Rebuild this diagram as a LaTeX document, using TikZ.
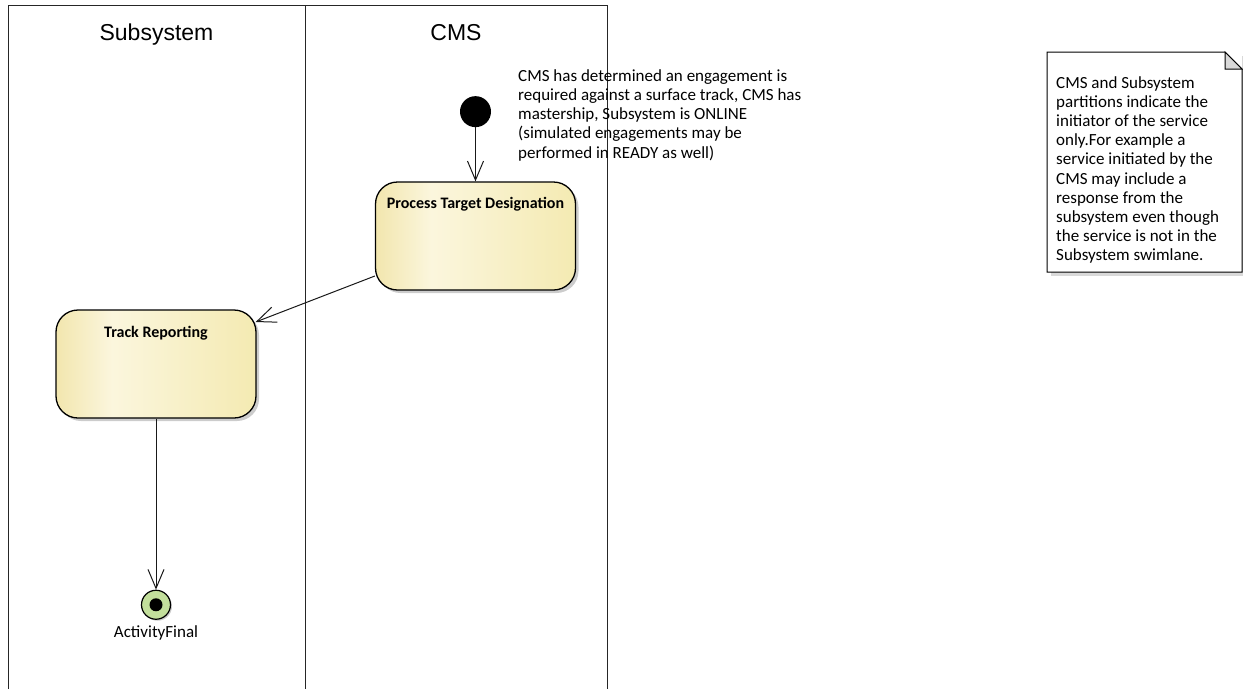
\documentclass[tikz,border=0pt]{standalone}
\usepackage{fontspec}
\setmainfont{Carlito}
\newfontfamily\lanefont{Liberation Sans}
\usetikzlibrary{positioning,arrows.meta,shadows}

\definecolor{actleft}{HTML}{F2E6AE}
\definecolor{actmid}{HTML}{FBF6DD}
\definecolor{actright}{HTML}{F4EAB2}
\definecolor{finalgreen}{HTML}{C3DF9C}
\definecolor{foldgray}{HTML}{D9D9D9}

\pgfdeclarehorizontalshading{actshade}{100bp}{color(0bp)=(actleft); color(25bp)=(actleft); color(39bp)=(actmid); color(75bp)=(actright); color(100bp)=(actright)}

\tikzset{
  lane/.style={draw=black!85, line width=1pt},
  lanetitle/.style={font=\lanefont\fontsize{23}{26}\selectfont, anchor=base, inner sep=0pt},
  action/.style={draw=black, line width=1.3pt, rounded corners=22pt,
    minimum width=200pt, minimum height=108pt, inner sep=0pt, shading=actshade,
    drop shadow={shadow xshift=3pt, shadow yshift=-3pt, fill=black, opacity=0.2}},
  actiontitle/.style={font=\bfseries\fontsize{16}{19}\selectfont, anchor=base, inner sep=0pt},
  initial/.style={circle, fill=black, minimum size=31pt, inner sep=0pt},
  final/.style={circle, draw=black, line width=1.2pt, fill=finalgreen, minimum size=29pt, inner sep=0pt,
    drop shadow={shadow xshift=1.5pt, shadow yshift=-1.5pt, fill=black, opacity=0.2}},
  finaldot/.style={circle, fill=black, minimum size=13pt, inner sep=0pt},
  remark/.style={font=\fontsize{17}{19.2}\selectfont, align=left, inner sep=0pt, anchor=north west},
  flow/.style={draw=black!90, line width=1pt, -{Straight Barb[length=19pt, width=16pt, line width=1pt]}}
}

\begin{document}
\begin{tikzpicture}[x=1pt, y=-1pt]
    \useasboundingbox (0,0) rectangle (1243,689);
    \fill[white] (0,0) rectangle (1243,689);

    \draw[lane] (8,689) -- (8,5) -- (607,5) -- (607,689);
    \draw[lane] (305,5) -- (305,689);
    \node[lanetitle] (sub-title) at (156.5,40) {Subsystem};
    \node[lanetitle] (cms-title) at (456,40) {CMS};

    \node[action] (proc) at (475.5,236) {};
    \node[actiontitle] (proc-title) at ([yshift=-27pt]proc.north) {Process Target Designation};
    \node[initial, above = 54pt of proc] (init) {};
    \node[action] (track) at (156,364) {};
    \node[actiontitle] (track-title) at ([yshift=-28pt]track.north) {Track Reporting};
    \node[final, below = 171pt of track] (fin) {};
    \node[finaldot] (fin-dot) at (fin) {};
    \node[font=\fontsize{17}{19}\selectfont, anchor=base, inner sep=0pt] (fin-label) at ([yshift=-33pt]fin) {ActivityFinal};

    \node[remark] (pre) at (518,69.3) {CMS has determined an engagement is\\
        required against a surface track, CMS has\\
        mastership, Subsystem is ONLINE\\
        (simulated engagements may be\\
        performed in READY as well)};

    \draw[flow] (init) -- (init |- proc.north);
    \draw[flow] ([yshift=-40pt]proc.west) -- ([xshift=-1pt, yshift=42pt]track.east);
    \draw[flow] (track) -- (fin);

    \fill[black, opacity=0.15] (1051,272) rectangle (1246,276);
    \fill[black, opacity=0.15] (1242,56) rectangle (1246,272);
    \draw[line width=1pt, fill=white] (1047,52) -- (1225,52) -- (1242,69) -- (1242,272) -- (1047,272) -- cycle;
    \draw[line width=1pt, fill=foldgray] (1225,52) -- (1225,69) -- (1242,69) -- cycle;
    \node[remark] (note) at (1056,76) {CMS and Subsystem\\
        partitions indicate the\\
        initiator of the service\\
        only.For example a\\
        service initiated by the\\
        CMS may include a\\
        response from the\\
        subsystem even though\\
        the service is not in the\\
        Subsystem swimlane.};
\end{tikzpicture}
\end{document}
